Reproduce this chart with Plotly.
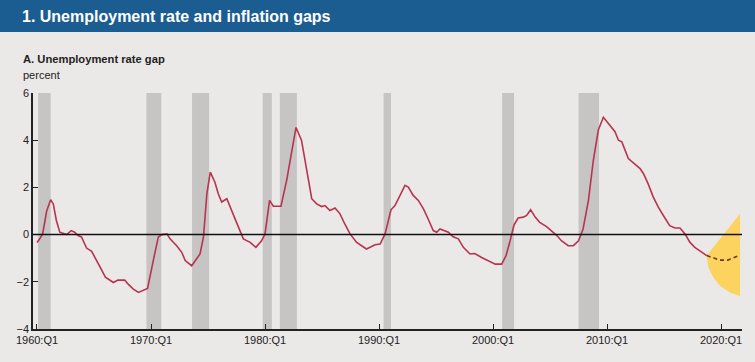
import plotly.graph_objects as go

# ---- data ----
gap_years = [1960.0, 1960.26, 1960.5, 1960.85, 1961.2, 1961.43, 1961.7, 1962.0, 1962.6, 1963.0,
             1963.3, 1963.6, 1963.9, 1964.35, 1964.8, 1965.2, 1965.7, 1966.0, 1966.7, 1967.1,
             1967.7, 1968.0, 1968.45, 1968.9, 1969.3, 1969.7, 1970.2, 1970.64, 1970.94, 1971.4,
             1971.67, 1972.25, 1972.7, 1973.0, 1973.57, 1973.86, 1974.3, 1974.6, 1974.9, 1975.2,
             1975.6, 1975.9, 1976.2, 1976.65, 1977.1, 1977.5, 1978.1, 1978.7, 1979.2, 1979.7,
             1980.0, 1980.4, 1980.73, 1981.4, 1981.9, 1982.34, 1982.72, 1983.2, 1983.66, 1984.1,
             1984.53, 1984.97, 1985.26, 1985.7, 1986.14, 1986.58, 1987.0, 1987.46, 1988.04, 1988.9,
             1989.65, 1990.1, 1990.53, 1991.05, 1991.4, 1991.84, 1992.28, 1992.57, 1993.0, 1993.45,
             1993.9, 1994.3, 1994.76, 1995.06, 1995.35, 1996.08, 1996.5, 1996.96, 1997.4, 1997.98,
             1998.4, 1999.0, 1999.6, 2000.2, 2000.76, 2001.14, 2001.5, 2001.84, 2002.2, 2002.66,
             2002.95, 2003.3, 2003.7, 2004.1, 2004.7, 2005.15, 2005.6, 2006.0, 2006.6, 2007.05,
             2007.5, 2007.9, 2008.37, 2008.8, 2009.24, 2009.68, 2010.1, 2010.7, 2011.0, 2011.3,
             2011.87, 2012.3, 2012.9, 2013.2, 2013.6, 2014.06, 2014.5, 2014.94, 2015.5, 2015.96,
             2016.4, 2016.84, 2017.28, 2017.7, 2018.16, 2018.75]
gap_values = [-0.33, -0.17, 0.04, 1.0, 1.48, 1.3, 0.6, 0.1, 0.0, 0.17,
              0.1, -0.04, -0.1, -0.57, -0.71, -1.1, -1.53, -1.8, -2.03, -1.93,
              -1.93, -2.1, -2.31, -2.45, -2.38, -2.28, -1.1, -0.11, 0.0, 0.03,
              -0.18, -0.47, -0.75, -1.1, -1.32, -1.1, -0.82, -0.11, 1.73, 2.65,
              2.23, 1.73, 1.38, 1.52, 1.02, 0.52, -0.18, -0.33, -0.54, -0.26,
              0.03, 1.45, 1.2, 1.2, 2.3, 3.43, 4.54, 4.0, 2.72, 1.52,
              1.3, 1.19, 1.23, 1.02, 1.13, 0.88, 0.45, 0.03, -0.33, -0.61,
              -0.43, -0.4, 0.03, 1.05, 1.23, 1.66, 2.09, 2.01, 1.66, 1.45,
              1.09, 0.67, 0.17, 0.1, 0.24, 0.1, -0.09, -0.18, -0.54, -0.82,
              -0.8, -0.97, -1.1, -1.25, -1.25, -0.89, -0.26, 0.4, 0.7, 0.74,
              0.81, 1.05, 0.74, 0.52, 0.34, 0.17, -0.04, -0.26, -0.47, -0.47,
              -0.26, 0.24, 1.45, 3.15, 4.43, 4.97, 4.7, 4.36, 4.0, 3.93,
              3.22, 3.03, 2.8, 2.58, 2.16, 1.59, 1.16, 0.81, 0.38, 0.28,
              0.28, 0.03, -0.33, -0.54, -0.68, -0.89]

proj_years = [2018.75, 2019.9, 2020.6, 2021.55]
proj_values = [-0.89, -1.08, -1.08, -0.89]

band_upper_years = [2018.75, 2021.67]
band_upper_values = [-0.89, 0.88]
band_lower_years = [2018.75, 2018.9, 2019.33, 2019.9, 2020.8, 2021.67]
band_lower_values = [-0.95, -1.39, -1.82, -2.17, -2.45, -2.61]

recession_starts = [1960.1, 1969.6, 1973.6, 1979.8, 1981.3, 1990.4, 2000.8, 2007.5]
recession_ends = [1961.2, 1970.9, 1975.1, 1980.6, 1982.8, 1991.05, 2001.85, 2009.3]

tick_years = [1960, 1970, 1980, 1990, 2000, 2010, 2020]
tick_labels = ["1960:Q1", "1970:Q1", "1980:Q1", "1990:Q1", "2000:Q1", "2010:Q1", "2020:Q1"]
y_ticks = [-4, -2, 0, 2, 4, 6]
y_tick_labels = ["\u22124", "\u22122", "0", "2", "4", "6"]

title_text = "1. Unemployment rate and inflation gaps"
panel_text = "A. Unemployment rate gap"
unit_text = "percent"

# ---- layout geometry ----
W, H = 755, 362
ML, MR, MT, MB = 33, 13, 93, 33
PW, PH = W - ML - MR, H - MT - MB

def px_x(px):
    return (px - ML) / PW

def px_y(py):
    return (H - MB - py) / PH

BG = "#ebe9e7"
FONT = "Liberation Sans, Arial, sans-serif"

fig = go.Figure()

# fan band
fig.add_trace(go.Scatter(
    x=band_upper_years + band_lower_years[::-1],
    y=band_upper_values + band_lower_values[::-1],
    fill="toself", fillcolor="#fcd35e", line=dict(width=0),
    mode="lines", hoverinfo="skip", showlegend=False))

# historical gap
fig.add_trace(go.Scatter(
    x=gap_years, y=gap_values, mode="lines",
    line=dict(color="#b73350", width=1.6), showlegend=False))

# projection
fig.add_trace(go.Scatter(
    x=proj_years, y=proj_values, mode="lines",
    line=dict(color="#6e3522", width=1.6, dash="4px,3px"), showlegend=False))

shapes = []
for s, e in zip(recession_starts, recession_ends):
    shapes.append(dict(type="rect", xref="x", yref="y", x0=s, x1=e, y0=-4, y1=6,
                       fillcolor="#c6c5c4", line=dict(width=0), layer="below"))
# zero line
shapes.append(dict(type="line", xref="paper", yref="y", x0=0, x1=1, y0=0, y1=0,
                   line=dict(color="#111111", width=1.5), layer="above"))
# title bar
shapes.append(dict(type="rect", xref="paper", yref="paper",
                   x0=px_x(0), x1=px_x(W), y0=px_y(32), y1=px_y(0),
                   fillcolor="#1b5d90", line=dict(width=0), layer="below"))

annotations = [
    dict(text="<b>" + title_text + "</b>", xref="paper", yref="paper",
         x=px_x(20), y=px_y(16), xanchor="left", yanchor="middle", showarrow=False,
         font=dict(family=FONT, size=16, color="white")),
    dict(text="<b>" + panel_text + "</b>", xref="paper", yref="paper",
         x=px_x(21), y=px_y(59), xanchor="left", yanchor="middle", showarrow=False,
         font=dict(family=FONT, size=11.2, color="#222222")),
    dict(text=unit_text, xref="paper", yref="paper",
         x=px_x(21), y=px_y(75), xanchor="left", yanchor="middle", showarrow=False,
         font=dict(family=FONT, size=11, color="#222222")),
]

fig.update_layout(
    width=W, height=H,
    margin=dict(l=ML, r=MR, t=MT, b=MB, pad=0),
    paper_bgcolor=BG, plot_bgcolor=BG,
    shapes=shapes, annotations=annotations,
    font=dict(family=FONT, size=11, color="#222222"),
    xaxis=dict(range=[1959.65, 2021.84], showgrid=False, zeroline=False,
               tickvals=tick_years, ticktext=tick_labels,
               ticks="inside", ticklen=5, tickcolor="#222222", tickwidth=1,
               showline=True, linecolor="#222222", linewidth=1.5,
               tickfont=dict(family=FONT, size=11, color="#222222")),
    yaxis=dict(range=[-4, 6], showgrid=False, zeroline=False,
               tickvals=y_ticks, ticktext=y_tick_labels,
               ticks="inside", ticklen=5, tickcolor="#222222", tickwidth=1,
               showline=True, linecolor="#222222", linewidth=1.5,
               tickfont=dict(family=FONT, size=11, color="#222222")),
)

fig.write_html("out.html",
               config={"displayModeBar": False},
               post_script="document.body.style.margin='0';document.body.style.padding='0';"
                           "document.body.style.background='" + BG + "';")
